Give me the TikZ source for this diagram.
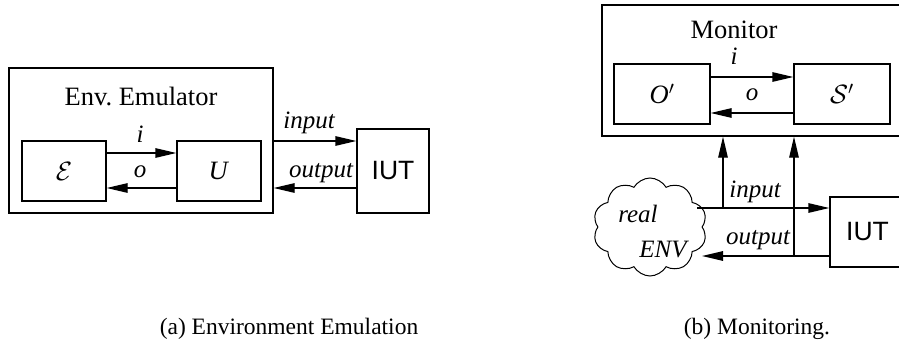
\RequirePackage{fix-cm}
\documentclass[tikz,border=0pt]{standalone}
\usepackage{fontspec}
\setmainfont{Liberation Serif}
\newfontfamily\iutfont{Liberation Sans}
\usetikzlibrary{arrows.meta,shapes.symbols}

\tikzset{
  box/.style={draw, line width=1.3pt, inner sep=0pt},
  arr/.style={line width=1.3pt, -{Triangle[length=21pt,width=9.5pt]}},
  lbl/.style={inner sep=0pt, font=\fontsize{26.5}{31}\selectfont},
  itlbl/.style={inner sep=0pt, font=\fontsize{25}{29}\selectfont\itshape},
  iutlbl/.style={font=\fontsize{26.5}{31}\selectfont\iutfont},
  captext/.style={inner sep=0pt, font=\fontsize{23.5}{28}\selectfont},
}

\begin{document}
\begin{tikzpicture}[x=1pt,y=-1pt]
\useasboundingbox (0,0) rectangle (899,345);
\clip (0,0) rectangle (899,345);

% ---------- (a) environment emulation ----------
\node[box, minimum width=264pt, minimum height=145pt] (emu) at (141,140.5) {};
\node[lbl, anchor=base] (emutitle) at (141,105) {Env.\ Emulator};
\node[box, lbl, minimum width=84pt, minimum height=60pt] (E) at (64,171) {$\mathcal{E}$};
\node[box, lbl, minimum width=84pt, minimum height=60pt] (U) at (219,171) {\textit{U}};
\node[box, iutlbl, minimum width=72pt, minimum height=84pt] (iutA) at (393,171) {IUT};

\draw[arr] (E.east |- 0,153) -- (U.west |- 0,153);
\draw[arr] (U.west |- 0,188) -- (E.east |- 0,188);
\node[itlbl, anchor=base] (iA) at (140,142) {i};
\node[itlbl, anchor=base] (oA) at (140,177) {o};

\draw[arr] (emu.east |- 0,141) -- (iutA.west |- 0,141);
\draw[arr] (iutA.west |- 0,188) -- (emu.east |- 0,188);
\node[itlbl, anchor=base] (inA) at (309,128) {input};
\node[itlbl, anchor=base] (outA) at (321,177) {output};

% ---------- (b) monitoring ----------
\node[box, minimum width=300pt, minimum height=131pt] (mon) at (752,70.5) {};
\node[lbl, anchor=base] (montitle) at (734,39) {Monitor};
\node[box, lbl, minimum width=96pt, minimum height=60pt] (Op) at (662,94) {\textit{O}$'$};
\node[box, lbl, minimum width=96pt, minimum height=60pt] (Sp) at (842,94) {$\mathcal{S}'$};

\draw[arr] (Op.east |- 0,77) -- (Sp.west |- 0,77);
\draw[arr] (Sp.west |- 0,113) -- (Op.east |- 0,113);
\node[itlbl, anchor=base] (iB) at (734,64) {i};
\node[itlbl, anchor=base] (oB) at (752,100) {o};

\node[box, iutlbl, minimum width=75pt, minimum height=70pt] (iutB) at (867.5,232) {IUT};

\node[cloud, draw, line width=1pt, cloud puffs=10, cloud puff arc=120,
      minimum width=114pt, minimum height=98pt] (env) at (650,227) {};
\node[itlbl, anchor=base] (real) at (638,222) {real};
\node[itlbl, anchor=base] (envtxt) at (663,257) {ENV};

\coordinate (envin) at (697,208);
\coordinate (envout) at (702,256);
\coordinate (tapin) at (723,208);
\coordinate (tapout) at (794,256);

\draw[arr] (envin) -- (iutB.west |- envin);
\draw[arr] (iutB.west |- envout) -- (envout);
\draw[arr] (tapin) -- (tapin |- mon.south);
\draw[arr] (tapout) -- (tapout |- mon.south);
\node[itlbl, anchor=base] (inB) at (755,197) {input};
\node[itlbl, anchor=base] (outB) at (758,244) {output};

% ---------- captions ----------
\node[captext, anchor=base] (capA) at (289,334) {(a) Environment Emulation};
\node[captext, anchor=base] (capB) at (757,334) {(b) Monitoring.};
\end{tikzpicture}
\end{document}
